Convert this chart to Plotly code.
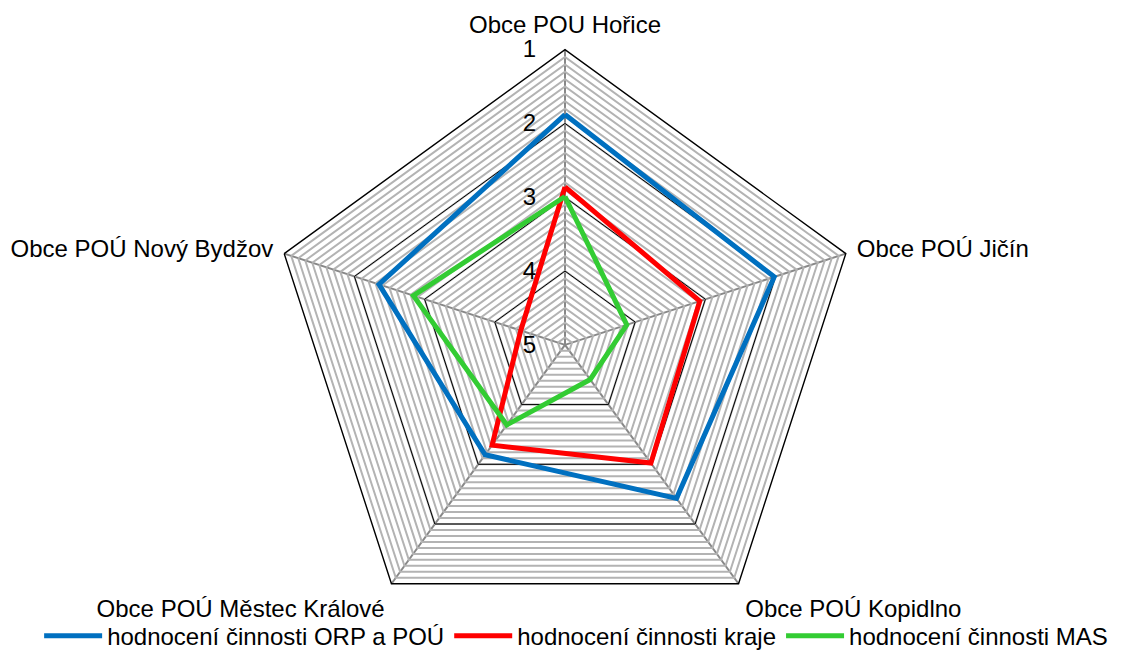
"""Radar chart: hodnocení činnosti podle obcí POÚ."""

import plotly.graph_objects as go

categories = [
    "Obce POU Hořice",
    "Obce POÚ Jičín",
    "Obce POÚ Kopidlno",
    "Obce POÚ Městec Králové",
    "Obce POÚ Nový Bydžov",
]
orp_pou = [1.88, 2.02, 2.43, 3.16, 2.35]
kraj = [2.86, 3.08, 3.02, 3.32, 4.37]
mas = [2.99, 4.12, 4.42, 3.66, 2.84]

series_names = [
    "hodnocení činnosti ORP a POÚ",
    "hodnocení činnosti kraje",
    "hodnocení činnosti MAS",
]
series_colors = ["#0070C0", "#FF0000", "#33CC33"]

FAMILY = "Liberation Sans, Arial, sans-serif"
FONT = dict(family=FAMILY, size=24, color="black")

# minor grid every 0.1, major every 1
minor_vals = [round(1 + i / 10, 1) for i in range(41)]
major_vals = [1, 2, 3, 4, 5]

fig = go.Figure()

# invisible trace so the background polar (minor grid) gets drawn
fig.add_trace(
    go.Scatterpolar(
        r=[5] * len(categories),
        theta=categories,
        subplot="polar",
        mode="lines",
        line=dict(width=0),
        hoverinfo="skip",
        showlegend=False,
    )
)

for name, values, color in zip(series_names, [orp_pou, kraj, mas], series_colors):
    fig.add_trace(
        go.Scatterpolar(
            r=values + values[:1],
            theta=categories + categories[:1],
            subplot="polar2",
            mode="lines",
            name=name,
            line=dict(color=color, width=5),
        )
    )

cx, cy, rad = 557 / 1125, 1 - 340 / 651, 298
dom_x = [cx - rad / 1125, cx + rad / 1125]
dom_y = [cy - rad / 651, cy + rad / 651]

common_angular = dict(
    categoryorder="array",
    categoryarray=categories,
    rotation=90,
    direction="clockwise",
)

fig.update_layout(
    width=1125,
    height=651,
    margin=dict(l=0, r=0, t=0, b=0),
    paper_bgcolor="white",
    polar=dict(
        domain=dict(x=dom_x, y=dom_y),
        gridshape="linear",
        bgcolor="white",
        radialaxis=dict(
            range=[5, 1],
            tickmode="array",
            tickvals=minor_vals,
            showticklabels=False,
            ticks="",
            showline=False,
            gridcolor="#b3b3b3",
            gridwidth=1.5,
        ),
        angularaxis=dict(
            **common_angular,
            ticks="",
            showticklabels=False,
            showline=False,
            gridcolor="#888888",
            gridwidth=2,
        ),
    ),
    polar2=dict(
        domain=dict(x=dom_x, y=dom_y),
        gridshape="linear",
        bgcolor="rgba(0,0,0,0)",
        radialaxis=dict(
            range=[5, 1],
            tickmode="array",
            tickvals=major_vals,
            angle=90,
            tickangle=90,
            side="counterclockwise",
            ticks="outside",
            ticklen=20,
            tickcolor="rgba(0,0,0,0)",
            showline=False,
            gridcolor="black",
            gridwidth=1.4,
            tickfont=FONT,
        ),
        angularaxis=dict(
            **common_angular,
            ticks="outside",
            ticklen=6,
            tickcolor="rgba(0,0,0,0)",
            showline=True,
            linecolor="black",
            linewidth=1.4,
            showgrid=False,
            tickfont=FONT,
        ),
    ),
    legend=dict(
        orientation="h",
        x=0.505,
        xanchor="center",
        y=1 - 634 / 651,
        yanchor="middle",
        itemwidth=58,
        font=FONT,
        bgcolor="rgba(0,0,0,0)",
    ),
)

fig.write_html("out.html")
